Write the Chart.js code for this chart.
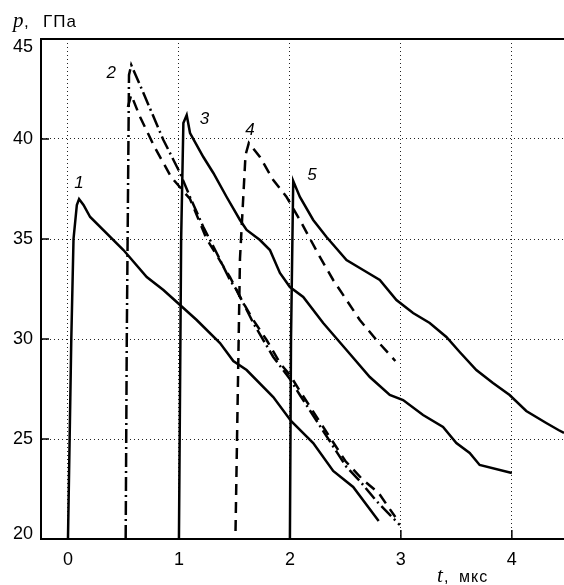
<!DOCTYPE html>
<html>
<head>
<meta charset="utf-8">
<script src="https://cdn.jsdelivr.net/npm/chart.js@4"></script>
<style>
  body { margin: 0; background: #fff; }
  canvas { display: block; }
</style>
</head>
<body>
<canvas id="chart" width="564" height="585"></canvas>
<script>
// curve 1 (solid)
const c1x = [0, 0.03, 0.05, 0.08, 0.10, 0.14, 0.20, 0.50, 0.71, 0.86, 1.01, 1.16, 1.37, 1.49, 1.61, 1.85, 2.01, 2.21, 2.39, 2.57, 2.80];
const c1y = [20, 30, 35, 36.7, 37.0, 36.7, 36.1, 34.45, 33.1, 32.45, 31.7, 30.95, 29.8, 28.9, 28.45, 27.1, 25.9, 24.8, 23.4, 22.6, 20.9];

// curve 2 (dash-dot)
const c2x = [0.52, 0.53, 0.55, 0.57, 0.68, 0.86, 1.01, 1.10, 1.22, 1.34, 1.46, 1.52, 1.67, 1.85, 2.00, 2.09, 2.30, 2.51, 2.63, 2.78, 2.99];
const c2y = [20, 30, 43.2, 43.7, 42.3, 39.95, 38.3, 37.1, 35.6, 34.3, 32.95, 32.45, 30.8, 29.1, 28.0, 27.2, 25.4, 23.6, 22.9, 21.9, 20.7];

// curve 2, second branch (dashed)
const c2bx = [0.54, 0.57, 0.65, 0.78, 0.93, 1.10, 1.25, 1.46, 1.55, 1.67, 1.79, 1.91, 2.00, 2.09, 2.30, 2.50, 2.65, 2.80, 2.95];
const c2by = [41.6, 42.2, 41.1, 39.6, 38.1, 37.0, 35.0, 33.1, 32.1, 30.95, 29.95, 28.8, 28.2, 27.4, 25.6, 23.9, 23.0, 22.3, 21.1];

// curve 3 (solid)
const c3x = [1.0, 1.02, 1.04, 1.07, 1.10, 1.22, 1.31, 1.43, 1.55, 1.61, 1.73, 1.82, 1.91, 2.00, 2.12, 2.30, 2.51, 2.72, 2.90, 3.02, 3.20, 3.38, 3.50, 3.62, 3.71, 4.00];
const c3y = [20, 35, 40.8, 41.2, 40.3, 39.1, 38.3, 37.1, 35.95, 35.45, 34.95, 34.45, 33.3, 32.6, 32.1, 30.8, 29.45, 28.1, 27.2, 26.95, 26.2, 25.6, 24.8, 24.3, 23.7, 23.3];

// curve 4 (dashed)
const c4x = [1.51, 1.55, 1.60, 1.63, 1.73, 1.85, 1.97, 2.09, 2.27, 2.39, 2.51, 2.63, 2.78, 2.95];
const c4y = [20.4, 34, 39.2, 39.8, 39.1, 37.95, 37.1, 35.95, 34.1, 32.95, 31.95, 30.95, 29.95, 28.9];

// curve 5 (solid)
const c5x = [2.0, 2.01, 2.03, 2.09, 2.21, 2.33, 2.51, 2.66, 2.81, 2.96, 3.11, 3.26, 3.41, 3.53, 3.68, 3.83, 3.98, 4.13, 4.31, 4.42, 4.47];
const c5y = [20, 30, 37.9, 37.1, 35.95, 35.1, 33.95, 33.45, 32.95, 31.95, 31.3, 30.8, 30.1, 29.35, 28.45, 27.8, 27.2, 26.4, 25.8, 25.45, 25.3];

// curve numbers
const curveNames = ['1', '2', '3', '4', '5'];
const nameX = [0.10, 0.39, 1.23, 1.64, 2.20];
const nameY = [37.8, 43.3, 41.0, 40.45, 38.2];

const xTicks = [0, 1, 2, 3, 4];
const yTicks = [20, 25, 30, 35, 40, 45];

function pts(xs, ys) {
    return xs.map((x, i) => ({ x: x, y: ys[i] }));
}

function curve(xs, ys, dash) {
    return {
        data: pts(xs, ys),
        showLine: true,
        borderColor: '#000',
        borderWidth: 2.5,
        borderDash: dash,
        pointRadius: 0,
        tension: 0
    };
}

const decor = {
    id: 'decor',
    afterDraw(chart) {
        const { ctx, chartArea: a, scales: { x, y } } = chart;
        ctx.save();
        ctx.strokeStyle = '#000';
        ctx.lineWidth = 2;
        ctx.beginPath();
        ctx.moveTo(a.left - 1, a.top);
        ctx.lineTo(a.right, a.top);
        ctx.stroke();

        // inward ticks
        ctx.lineWidth = 1.5;
        xTicks.forEach(v => {
            const px = x.getPixelForValue(v);
            ctx.beginPath();
            ctx.moveTo(px, a.bottom);
            ctx.lineTo(px, a.bottom - 9);
            ctx.stroke();
        });
        yTicks.forEach(v => {
            const py = y.getPixelForValue(v);
            ctx.beginPath();
            ctx.moveTo(a.left, py);
            ctx.lineTo(a.left + 8, py);
            ctx.stroke();
        });

        // y tick labels, end ones pulled inside like the original
        ctx.fillStyle = '#000';
        ctx.font = '18px "Liberation Sans", Arial, sans-serif';
        ctx.textAlign = 'right';
        ctx.textBaseline = 'middle';
        yTicks.forEach(v => {
            let py = y.getPixelForValue(v);
            py = Math.min(Math.max(py, a.top + 8), a.bottom - 5);
            ctx.fillText(String(v), a.left - 8, py);
        });

        // curve numbers
        ctx.font = 'italic 17px "Liberation Sans", Arial, sans-serif';
        ctx.textAlign = 'center';
        curveNames.forEach((t, i) => {
            ctx.fillText(t, x.getPixelForValue(nameX[i]), y.getPixelForValue(nameY[i]));
        });

        // axis titles
        ctx.textAlign = 'left';
        ctx.textBaseline = 'alphabetic';
        ctx.font = 'italic 21px "Liberation Serif", serif';
        ctx.fillText('p', 13, 27);
        ctx.font = '17px "Liberation Sans", Arial, sans-serif';
        ctx.fillText(',', 24, 27);
        ctx.letterSpacing = '1px';
        ctx.fillText('ГПа', 43, 27);

        ctx.letterSpacing = '0px';
        ctx.font = 'italic 21px "Liberation Serif", serif';
        ctx.fillText('t', 437, 582);
        ctx.font = '16px "Liberation Sans", Arial, sans-serif';
        ctx.fillText(',', 444, 582);
        ctx.letterSpacing = '1px';
        ctx.fillText('мкс', 459, 582);
        ctx.restore();
    }
};

new Chart(document.getElementById('chart'), {
    type: 'scatter',
    data: {
        datasets: [
            curve(c1x, c1y, []),
            curve(c2x, c2y, [14, 4, 2, 4]),
            curve(c2bx, c2by, [11, 7]),
            curve(c3x, c3y, []),
            curve(c4x, c4y, [11, 7]),
            curve(c5x, c5y, [])
        ]
    },
    options: {
        responsive: false,
        animation: false,
        devicePixelRatio: 1,
        layout: { padding: { top: 39, right: 0, left: 0, bottom: 0 } },
        plugins: {
            legend: { display: false },
            tooltip: { enabled: false }
        },
        scales: {
            x: {
                type: 'linear',
                min: -0.243,
                max: 4.47,
                afterBuildTicks: (scale) => {
                    scale.ticks = xTicks.map(v => ({ value: v }));
                },
                afterFit: (scale) => { scale.height = 46; },
                grid: { color: '#222', lineWidth: 1, drawTicks: false },
                border: { display: true, color: '#000', width: 2, dash: [1, 3] },
                ticks: {
                    color: '#000',
                    padding: 10,
                    font: { family: '"Liberation Sans", Arial, sans-serif', size: 18 }
                }
            },
            y: {
                min: 20,
                max: 45,
                afterBuildTicks: (scale) => {
                    scale.ticks = yTicks.map(v => ({ value: v }));
                },
                afterFit: (scale) => { scale.width = 41; },
                grid: { color: '#222', lineWidth: 1, drawTicks: false },
                border: { display: true, color: '#000', width: 2, dash: [1, 3] },
                ticks: { display: false }
            }
        }
    },
    plugins: [decor]
});
</script>
</body>
</html>
